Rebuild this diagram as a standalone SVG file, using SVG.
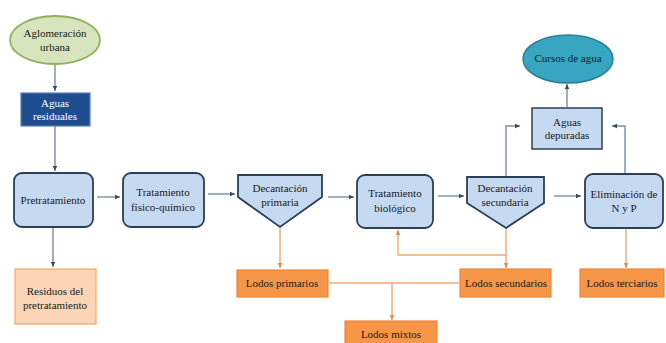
<svg xmlns="http://www.w3.org/2000/svg" width="666" height="343" viewBox="0 0 666 343">
<style>
text{font-family:"Liberation Serif","Times New Roman",serif;font-size:11px;fill:#1a1a1a;text-anchor:middle}
.proc{fill:#c5d9f1;stroke:#2b3f57;stroke-width:1.8}
.sq{fill:#c5d9f1;stroke:#2b3f57;stroke-width:1.5}
.lodo{fill:#f79646;stroke:#e9853a;stroke-width:1.2}
.flow{stroke:#7b8ea6;stroke-width:1.4;fill:none}
.sl{stroke:#f0aa72;stroke-width:1.4;fill:none}
</style>
<defs>
<marker id="ag" markerWidth="6" markerHeight="6" refX="5" refY="3" orient="auto" markerUnits="userSpaceOnUse"><path d="M0,0.8 L5,3 L0,5.2 Z" fill="#3a4a5e"/></marker>
<marker id="ao" markerWidth="6" markerHeight="6" refX="5" refY="3" orient="auto" markerUnits="userSpaceOnUse"><path d="M0,0.8 L5,3 L0,5.2 Z" fill="#e08a4a"/></marker>
</defs>
<rect width="666" height="343" fill="#ffffff"/>
<g id="connectors">
<path class="flow" d="M55,64 V91" marker-end="url(#ag)"/>
<path class="flow" d="M55,126 V171" marker-end="url(#ag)"/>
<path class="flow" d="M53,228 V267" marker-end="url(#ag)"/>
<path class="flow" d="M97,197 H120" marker-end="url(#ag)"/>
<path class="flow" d="M208,194 H235" marker-end="url(#ag)"/>
<path class="flow" d="M328,197 H354" marker-end="url(#ag)"/>
<path class="flow" d="M438,196 H464" marker-end="url(#ag)"/>
<path class="flow" d="M554,196 H581" marker-end="url(#ag)"/>
<path class="flow" d="M506,176 V126 H520" marker-end="url(#ag)"/>
<path class="flow" d="M625,173 V126 H612" marker-end="url(#ag)"/>
<path class="flow" d="M567,107 V84" marker-end="url(#ag)"/>
<path class="sl" d="M280,228 V268" marker-end="url(#ao)"/>
<path class="sl" d="M506,228 V268" marker-end="url(#ao)"/>
<path class="sl" d="M626,229 V268" marker-end="url(#ao)"/>
<path class="sl" d="M506,255 H398 V230" marker-end="url(#ao)"/>
<path class="sl" d="M329,283 H459"/>
<path class="sl" d="M392,283 V320" marker-end="url(#ao)"/>
</g>
<g id="aglomeracion">
<ellipse cx="55" cy="40" rx="45" ry="24" fill="#d7e4bd" stroke="#8fb15a" stroke-width="1.8"/>
<text x="55" y="37">Aglomeración</text>
<text x="55" y="51">urbana</text>
</g>
<g id="aguas-residuales">
<rect x="21" y="93" width="69" height="33" fill="#1f4e8f" stroke="#5a7fb5" stroke-width="1.2"/>
<text x="55" y="107" style="fill:#ffffff">Aguas</text>
<text x="55" y="120" style="fill:#ffffff">residuales</text>
</g>
<g id="pretratamiento">
<rect x="14" y="173" width="79" height="54" rx="8" class="proc"/>
<text x="53" y="204">Pretratamiento</text>
</g>
<g id="residuos">
<rect x="15" y="269" width="81" height="55" fill="#fbd5b5" stroke="#f4a66a" stroke-width="1.2"/>
<text x="55" y="295">Residuos del</text>
<text x="55" y="309">pretratamiento</text>
</g>
<g id="fisico-quimico">
<rect x="123" y="173" width="81" height="54" rx="8" class="proc"/>
<text x="163" y="196">Tratamiento</text>
<text x="163" y="211">físico-químico</text>
</g>
<g id="decantacion-primaria">
<path d="M238,175 H322 V197 L280,227 L238,197 Z" class="proc"/>
<text x="280" y="192">Decantación</text>
<text x="280" y="206">primaria</text>
</g>
<g id="biologico">
<rect x="357" y="175" width="76" height="53" rx="8" class="proc"/>
<text x="395" y="197">Tratamiento</text>
<text x="395" y="212">biológico</text>
</g>
<g id="decantacion-secundaria">
<path d="M467,177 H544 V203 L506,228 L467,203 Z" class="proc"/>
<text x="505" y="192">Decantación</text>
<text x="505" y="206">secundaria</text>
</g>
<g id="eliminacion">
<rect x="585" y="174" width="78" height="54" rx="8" class="proc"/>
<text x="624" y="198">Eliminación de</text>
<text x="624" y="212">N y P</text>
</g>
<g id="aguas-depuradas">
<rect x="532" y="108" width="70" height="41" class="sq"/>
<text x="567" y="126">Aguas</text>
<text x="567" y="139">depuradas</text>
</g>
<g id="cursos-de-agua">
<ellipse cx="568" cy="59" rx="45" ry="24" fill="#38a6c1" stroke="#2a7f99" stroke-width="1.5"/>
<text x="568" y="62">Cursos de agua</text>
</g>
<g id="lodos-primarios">
<rect x="237" y="270" width="91" height="27" class="lodo"/>
<text x="282" y="287">Lodos primarios</text>
</g>
<g id="lodos-secundarios">
<rect x="460" y="269" width="91" height="28" class="lodo"/>
<text x="506" y="287">Lodos secundarios</text>
</g>
<g id="lodos-terciarios">
<rect x="580" y="269" width="84" height="28" class="lodo"/>
<text x="622" y="287">Lodos terciarios</text>
</g>
<g id="lodos-mixtos">
<rect x="345" y="321" width="92" height="26" class="lodo"/>
<text x="391" y="338">Lodos mixtos</text>
</g>
</svg>
